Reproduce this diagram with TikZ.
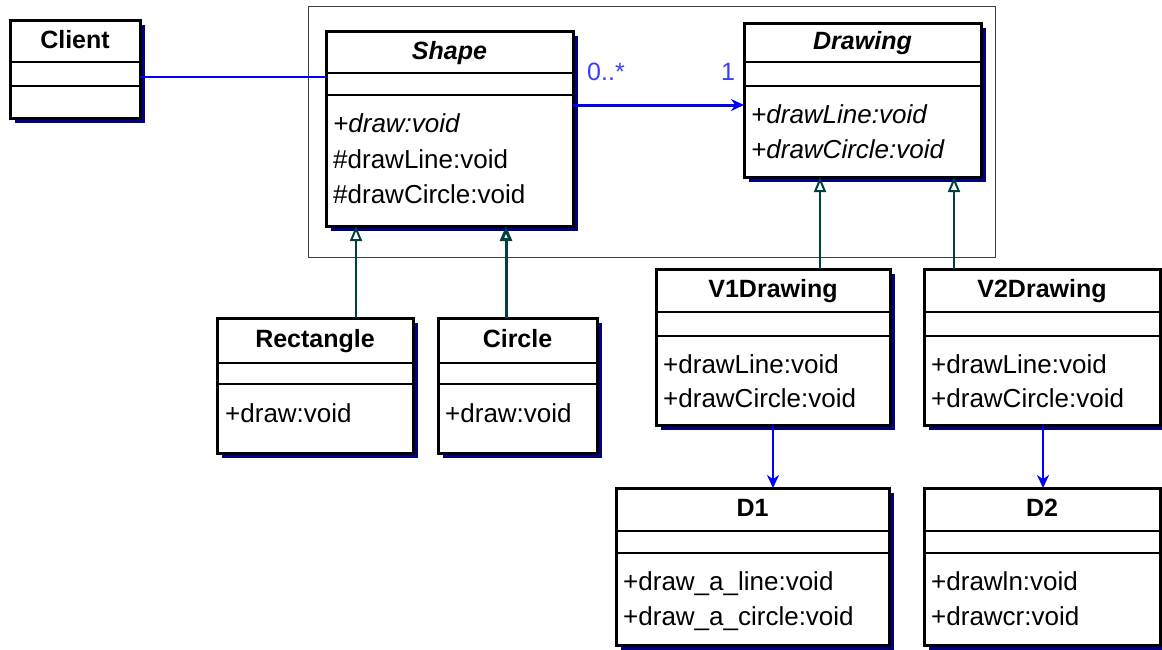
\documentclass[tikz,border=0pt]{standalone}
\usepackage{fontspec}
\setmainfont{Liberation Sans}
\usetikzlibrary{arrows.meta}
\definecolor{shadowc}{RGB}{0,0,128}
\definecolor{inhc}{RGB}{0,64,64}
\definecolor{assocc}{RGB}{0,0,255}
\definecolor{labelc}{RGB}{60,60,255}
\definecolor{framec}{RGB}{64,64,64}
\tikzset{
  classbox/.style={draw=black, fill=white, line width=3pt, inner sep=0pt, outer sep=0pt, anchor=north west, rectangle},
  divline/.style={draw=black, line width=2.5pt},
  titletext/.style={anchor=base, inner sep=0pt, font=\fontsize{25}{30}\selectfont\bfseries},
  linetext/.style={anchor=base west, inner sep=0pt, font=\fontsize{26}{30}\selectfont},
  multlabel/.style={anchor=base west, inner sep=0pt, text=labelc, font=\fontsize{25}{30}\selectfont},
  inh/.style={draw=inhc, line width=2pt, -{Triangle[open, length=15pt, width=12pt, fill=white]}},
  assoc/.style={draw=assocc, line width=2pt},
  nav/.style={draw=assocc, line width=2.5pt, -{Stealth[length=13pt, width=12pt]}},
}
% name, x1, y1, x2, y2, div1, div2, title
\newcommand\umlbox[8]{%
  \fill[shadowc] (#2+5,#3+5) rectangle (#4+5,#5+5);
  \node[classbox, minimum width={(#4-#2)*1pt}, minimum height={(#5-#3)*1pt}] (#1) at (#2,#3) {};
  \draw[divline] (#2,#6) -- (#4,#6);
  \draw[divline] (#2,#7) -- (#4,#7);
  \node[titletext] (#1-title) at ({(#2+#4)/2},{(#3+#6)/2+7}) {#8};
}
\newcommand\umlline[4]{\node[linetext] (#1) at (#2,#3) {#4};}
\begin{document}
\begin{tikzpicture}[x=1pt, y=-1pt]
\useasboundingbox (0,0) rectangle (1162,649);
\fill[white] (0,0) rectangle (1162,649);
% package frame
\draw[framec, line width=1pt] (308,6) rectangle (995,257);

\umlbox{client}{10}{20}{140}{118}{62}{86}{Client}
\umlbox{shape}{326}{31}{573}{226}{73}{95}{\textit{Shape}}
\umlline{shape-l1}{333}{132}{\textit{+draw:void}}
\umlline{shape-l2}{333}{168}{\#drawLine:void}
\umlline{shape-l3}{333}{203}{\#drawCircle:void}

\umlbox{drawing}{744}{23}{981}{177}{62}{86}{\textit{Drawing}}
\umlline{drawing-l1}{751}{123}{\textit{+drawLine:void}}
\umlline{drawing-l2}{751}{158}{\textit{+drawCircle:void}}

\umlbox{rect}{217}{318}{413}{453}{363}{384}{Rectangle}
\umlline{rect-l1}{225}{422}{+draw:void}

\umlbox{circ}{438}{318}{597}{453}{363}{384}{Circle}
\umlline{circ-l1}{445}{422}{+draw:void}

\umlbox{vone}{656}{269}{890}{425}{312}{336}{V1Drawing}
\umlline{vone-l1}{663}{373}{+drawLine:void}
\umlline{vone-l2}{663}{407}{+drawCircle:void}

\umlbox{vtwo}{924}{269}{1160}{425}{312}{336}{V2Drawing}
\umlline{vtwo-l1}{931}{373}{+drawLine:void}
\umlline{vtwo-l2}{931}{407}{+drawCircle:void}

\umlbox{done}{616}{488}{889}{645}{531}{553}{D1}
\umlline{done-l1}{623}{590}{+draw\_a\_line:void}
\umlline{done-l2}{623}{625}{+draw\_a\_circle:void}

\umlbox{dtwo}{924}{488}{1160}{645}{531}{553}{D2}
\umlline{dtwo-l1}{931}{590}{+drawln:void}
\umlline{dtwo-l2}{931}{625}{+drawcr:void}

% association Client -- Shape
\coordinate (ca) at ([yshift=-57pt]client.north east);
\draw[assoc] (ca) -- (ca -| shape.west);

% Shape -> Drawing
\coordinate (sa) at ([yshift=-74pt]shape.north east);
\draw[assocc, line width=3pt, -{Stealth[length=13pt, width=12pt]}] (sa) -- (sa -| drawing.west);
\node[multlabel] (m0) at (587,80) {0..*};
\node[multlabel] (m1) at (721,80) {1};

% generalizations
\coordinate (r1) at ([xshift=139pt]rect.north west);
\draw[inh] (r1) -- (r1 |- shape.south);
\coordinate (c1) at ([xshift=68pt]circ.north west);
\draw[inh, line width=3pt] (c1) -- (c1 |- shape.south);
\coordinate (v1) at ([xshift=164pt]vone.north west);
\draw[inh] (v1) -- (v1 |- drawing.south);
\coordinate (v2) at ([xshift=30pt]vtwo.north west);
\draw[inh] (v2) -- (v2 |- drawing.south);

% navigations
\coordinate (n1) at ([xshift=117pt]vone.south west);
\draw[nav] (n1) -- (n1 |- done.north);
\coordinate (n2) at ([xshift=119pt]vtwo.south west);
\draw[nav] (n2) -- (n2 |- dtwo.north);
\end{tikzpicture}
\end{document}
